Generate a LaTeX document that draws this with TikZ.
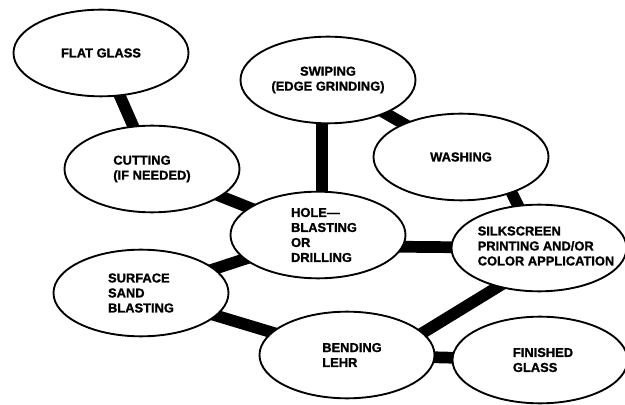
\documentclass[tikz,border=0pt]{standalone}
\usepackage{fontspec}
\setmainfont{Liberation Sans}[BoldFont={Liberation Sans Bold}, BoldFeatures={FakeBold=1.2}]
\usetikzlibrary{shapes.geometric, backgrounds, calc}

\tikzset{
  stage/.style={ellipse, draw, line width=1.6pt, fill=white, minimum width=5.25cm, minimum height=2.6cm, inner sep=0pt},
  lbl/.style={align=left, inner sep=0pt, font=\bfseries\fontsize{11}{12.8}\selectfont},
  link/.style={line width=10pt}
}

\begin{document}
\begin{tikzpicture}[x=0.03cm,y=-0.03cm]
\useasboundingbox (0,0) rectangle (625,405);
% the stages
\node[stage] (flat)  at (101,53)  {};
\node[stage] (cut)   at (152,169) {};
\node[stage] (swipe) at (328,80)  {};
\node[stage] (wash)  at (461,157) {};
\node[stage] (hole)  at (318,235) {};
\node[stage] (silk)  at (539,248) {};
\node[stage] (sand)  at (141,293) {};
\node[stage] (bend)  at (347,355) {};
\node[stage] (done)  at (540,360) {};
% texts
\node[lbl] (flat-t)  at (flat)  {FLAT GLASS};
\node[lbl] (cut-t)   at (cut)   {CUTTING\\(IF NEEDED)};
\node[lbl, align=center] (swipe-t) at (swipe) {SWIPING\\(EDGE GRINDING)};
\node[lbl] (wash-t)  at (wash)  {WASHING};
\node[lbl] (hole-t)  at ($(hole)+(6,0)$) {HOLE—\\BLASTING\\OR\\DRILLING};
\node[lbl] (silk-t)  at ($(silk)+(7,-2)$) {SILKSCREEN\\PRINTING AND/OR\\COLOR APPLICATION};
\node[lbl] (sand-t)  at (sand)  {SURFACE\\SAND\\BLASTING};
\node[lbl] (bend-t)  at ($(bend)+(5,0)$) {BENDING\\LEHR};
\node[lbl] (done-t)  at ($(done)+(3,0)$) {FINISHED\\GLASS};
% connectors
\begin{pgfonlayer}{background}
\draw[link] (flat.center) -- (cut.center);
\draw[link] (cut.center) -- (hole.center);
\draw[link] ($(swipe.center)+(-6,0)$) -- ($(hole.center)+(4,0)$);
\draw[link] (swipe.center) -- (wash.center);
\draw[link] ($(wash.center)+(33,0)$) -- (silk.center);
\draw[link] ($(hole.center)+(0,11)$) -- (silk.center);
\draw[link] (hole.center) -- (sand.center);
\draw[link] (sand.center) -- (bend.center);
\draw[link] ($(bend.center)+(20,12)$) -- ($(silk.center)+(-30,32)$);
\draw[link] (bend.center) -- (done.center);
\end{pgfonlayer}
\end{tikzpicture}
\end{document}
